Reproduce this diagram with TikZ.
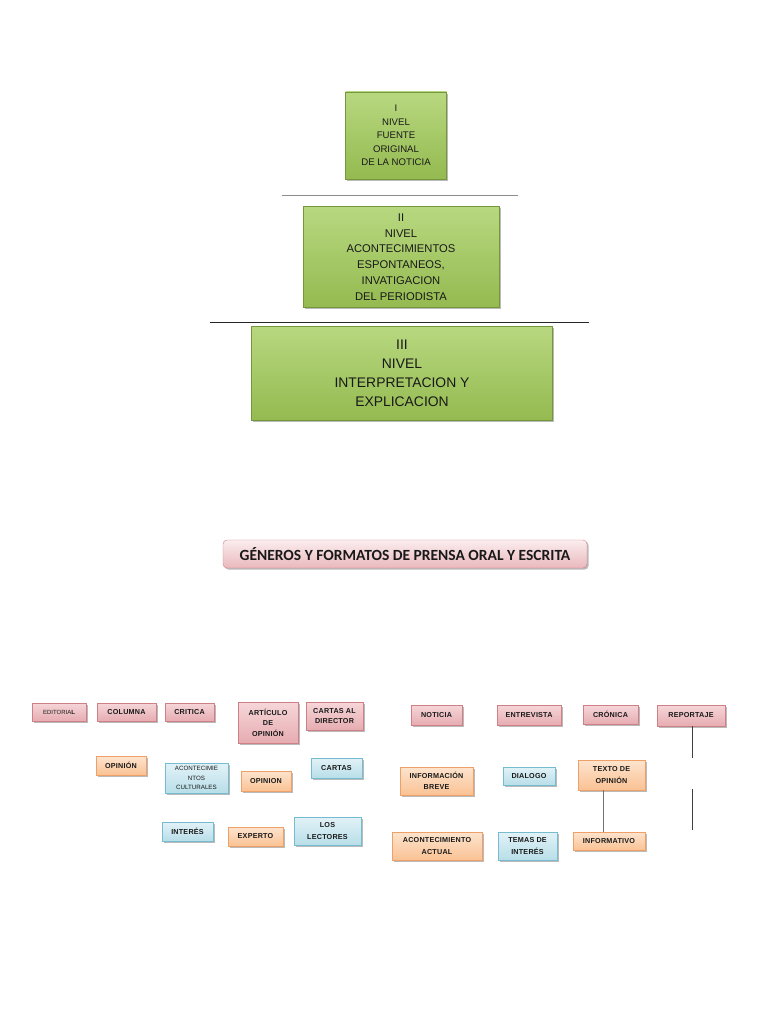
\documentclass[tikz,border=0pt]{standalone}
\usepackage{fontspec}
\setmainfont{Liberation Sans}
\newfontfamily\titlefont{Carlito}
\newfontfamily\boxfont[LetterSpace=3]{Liberation Sans}
\usepackage{tikz}
\usetikzlibrary{shadows}
\definecolor{greentop}{RGB}{184,216,128}
\definecolor{greenbot}{RGB}{148,186,80}
\definecolor{greenline}{RGB}{118,150,60}
\definecolor{pinktop}{RGB}{246,214,217}
\definecolor{pinkbot}{RGB}{230,172,177}
\definecolor{pinkline}{RGB}{206,128,134}
\definecolor{orangetop}{RGB}{253,228,206}
\definecolor{orangebot}{RGB}{250,194,148}
\definecolor{orangeline}{RGB}{238,160,104}
\definecolor{bluetop}{RGB}{226,242,247}
\definecolor{bluebot}{RGB}{184,222,232}
\definecolor{blueline}{RGB}{118,188,208}
\definecolor{inktext}{RGB}{25,25,25}
\tikzset{
  box/.style     ={align=center, inner sep=1pt, text=inktext,
                   drop shadow={shadow xshift=1.6pt, shadow yshift=-1.6pt, opacity=0.45, fill=black!60}},
  levelbox/.style={box, draw=greenline, top color=greentop, bottom color=greenbot},
  pinkbox/.style ={box, draw=pinkline, top color=pinktop, bottom color=pinkbot,
                   font=\boxfont\bfseries\fontsize{7.2}{10.5}\selectfont},
  orangebox/.style={box, draw=orangeline, top color=orangetop, bottom color=orangebot,
                   font=\boxfont\bfseries\fontsize{7.2}{11.5}\selectfont},
  bluebox/.style ={box, draw=blueline, top color=bluetop, bottom color=bluebot,
                   font=\boxfont\bfseries\fontsize{7.2}{11.5}\selectfont},
  titlebox/.style={box, rounded corners=4pt, draw=pinkline, top color=pinktop!45!white,
                   bottom color=pinkbot!85!white, font=\titlefont\bfseries\fontsize{15.5}{17}\selectfont},
  link/.style    ={draw=black!75, line width=0.9pt},
}

\begin{document}
\begin{tikzpicture}[x=1pt,y=-1pt]
\useasboundingbox (0,0) rectangle (768,1024);
% niveles
\node[levelbox, minimum width=101, minimum height=87, font=\fontsize{9.6}{13.5}\selectfont]
  (lvlI) at (396,135.5) {I\\NIVEL\\FUENTE\\ORIGINAL\\DE LA NOTICIA};
\node[levelbox, minimum width=196, minimum height=101, font=\fontsize{11.2}{15.7}\selectfont]
  (lvlII) at (401,257) {II\\NIVEL\\ACONTECIMIENTOS\\ESPONTANEOS,\\INVATIGACION\\DEL PERIODISTA};
\node[levelbox, minimum width=301, minimum height=94, font=\fontsize{13.9}{19}\selectfont]
  (lvlIII) at (402,373) {III\\NIVEL\\INTERPRETACION Y\\EXPLICACION};
\draw[draw=black!45, line width=1pt] (282,196) -- (518,196);
\draw[draw=black!85, line width=1pt] (210,322) -- (589,322);
% titulo
\node[titlebox, minimum width=364, minimum height=28] (generos) at (405,554)
  {GÉNEROS Y FORMATOS DE PRENSA ORAL Y ESCRITA};
% generos
\foreach \nm/\cx/\cy/\bw/\bh/\lab in {
    colum/126.5/712/59/18/COLUMNA, crit/189.5/712/49/18/CRITICA,
    artic/268/722.5/60/41/{ARTÍCULO\\DE\\OPINIÓN}, cartasdir/334.5/716/57/28/{CARTAS AL\\DIRECTOR},
    noticia/436.5/715/51/20/NOTICIA, entrev/529/715/64/20/ENTREVISTA,
    cronica/610.5/714.5/55/19/CRÓNICA, report/691/715.5/68/21/REPORTAJE}{
  \node[pinkbox, minimum width=\bw, minimum height=\bh] (\nm) at (\cx,\cy) {\lab};
}
\node[pinkbox, minimum width=54, minimum height=18, font=\fontsize{6}{7}\selectfont]
  (edit) at (59,712) {EDITORIA\textbf{L}};
% rasgos
\foreach \nm/\cx/\cy/\bw/\bh/\lab in {
    opin/121/765.5/50/19/OPINIÓN, opinb/266/781/50/20/OPINION,
    infobreve/436.5/781/73/28/{INFORMACIÓN\\BREVE}, texto/611.5/775/67/30/{TEXTO DE\\OPINIÓN},
    experto/255.5/836.5/55/19/EXPERTO, acontact/437/846/90/28/{ACONTECIMIENTO\\ACTUAL},
    informativo/609/841/72/18/INFORMATIVO}{
  \node[orangebox, minimum width=\bw, minimum height=\bh] (\nm) at (\cx,\cy) {\lab};
}
\foreach \nm/\cx/\cy/\bw/\bh/\lab in {
    cartas/336.5/768/51/20/CARTAS, dialogo/529/776/52/18/DIALOGO,
    interes/187.5/831.5/51/19/INTERÉS, lectores/327.5/831/67/28/{LOS\\LECTORES},
    temas/527.5/846/59/28/{TEMAS DE\\INTERÉS}}{
  \node[bluebox, minimum width=\bw, minimum height=\bh] (\nm) at (\cx,\cy) {\lab};
}
\node[bluebox, minimum width=63, minimum height=30, font=\fontsize{6.2}{9.2}\selectfont]
  (acontcult) at (196.5,778) {ACONTECIMIE\\NTOS\\CULTURALES};
% lineas
\coordinate (repend) at (692,758);
\coordinate (loosetop) at (692,789);
\coordinate (loosebot) at (692,830);
\coordinate (txcol) at (603,0);
\draw[link] (report.south -| repend) -- (repend);
\draw[link] (loosetop) -- (loosebot);
\draw[link, draw=black!55] (texto.south -| txcol) -- (informativo.north -| txcol);
\end{tikzpicture}
\end{document}
